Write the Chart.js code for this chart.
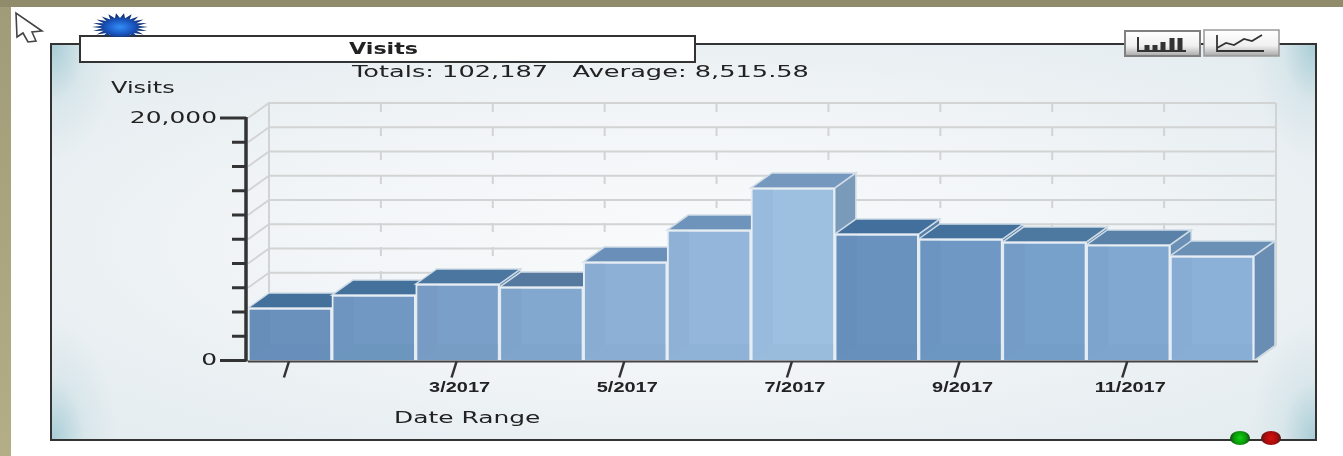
<!DOCTYPE html>
<html>
<head>
<meta charset="utf-8">
<title>Visits</title>
<script src="https://cdn.jsdelivr.net/npm/chart.js@4/dist/chart.umd.min.js"></script>
<style>
html, body { margin: 0; padding: 0; background: #fff; overflow: hidden; }
#page { position: absolute; left: 0; top: 0; width: 1343px; height: 456px; filter: blur(0.5px); }
#page div, #page svg, #page canvas { position: absolute; }
#bandTop { left: 0; top: 0; width: 1343px; height: 7px; background: #8f8b6b; }
#bandLeft { left: 0; top: 7px; width: 11px; height: 449px; background: linear-gradient(#a09c78, #b3ae86); }
#panel { left: 50px; top: 43px; width: 1263px; height: 394px; border: 2px solid #333;
    background:
        radial-gradient(ellipse 65px 115px at left top, #a9cdd6 0, rgba(200,222,228,.45) 50%, rgba(230,238,241,0) 100%),
        radial-gradient(ellipse 65px 115px at right top, #a9cdd6 0, rgba(200,222,228,.45) 50%, rgba(230,238,241,0) 100%),
        radial-gradient(ellipse 65px 115px at left bottom, #a9cdd6 0, rgba(200,222,228,.45) 50%, rgba(230,238,241,0) 100%),
        radial-gradient(ellipse 65px 115px at right bottom, #a9cdd6 0, rgba(200,222,228,.45) 50%, rgba(230,238,241,0) 100%),
        radial-gradient(ellipse farthest-corner at center, #f8fafb 0, #f3f6f8 40%, #e9eff2 75%, #e4ecef 100%); }
#titleBox { left: 79px; top: 35px; width: 613px; height: 24px; background: #fff; border: 2px solid #333; }
.txt { white-space: pre; color: #222; transform-origin: left top; font-family: "DejaVu Sans", sans-serif; font-size: 15px; line-height: 18px; }
.led { width: 20px; height: 14px; border-radius: 50%; }
</style>
</head>
<body>
<div id="page">
    <div id="bandTop"></div>
    <div id="bandLeft"></div>
    <div id="panel"></div>
    <div id="titleBox"></div>
    <canvas id="barChart" width="1343" height="456"></canvas>
    <div class="txt" id="titleText" style="left:349px;top:40px;font-weight:bold;transform:scaleX(1.48)"></div>
    <div class="txt" id="totalsText" style="left:352px;top:63px;transform:scaleX(1.71)"></div>
    <div class="txt" id="yTitle" style="left:111px;top:79px;transform:scaleX(1.6)"></div>
    <div class="txt" id="xTitle" style="left:394px;top:409px;transform:scaleX(1.66)"></div>
    <svg style="left:0;top:0" width="60" height="50">
        <path d="M16 13 L17 37 L23 33 L28 42 L36 41 L32 32 L42 31 Z" fill="#fff" stroke="#444" stroke-width="1.6"/>
    </svg>
    <svg style="left:1120px;top:26px" width="165" height="36">
        <defs><linearGradient id="btn" x1="0" y1="0" x2="0" y2="1">
            <stop offset="0" stop-color="#fff"/><stop offset="0.6" stop-color="#f0f0f0"/><stop offset="1" stop-color="#a8a8a8"/>
        </linearGradient></defs>
        <rect x="5" y="5" width="75" height="25" fill="url(#btn)" stroke="#808080" stroke-width="2"/>
        <rect x="84" y="4" width="75" height="26" fill="url(#btn)" stroke="#999" stroke-width="1.5"/>
        <path d="M18 11 V25 H66" fill="none" stroke="#333" stroke-width="2"/>
        <path d="M27 25 V19 M35 25 V19 M43 25 V16 M52 25 V12 M60 25 V12" stroke="#333" stroke-width="5" fill="none"/>
        <path d="M97 9 V25 H144 M97 22 L106 17 L114 19 L124 13 L132 15 L142 9" fill="none" stroke="#333" stroke-width="1.8"/>
    </svg>
    <div class="led" style="left:1230px;top:431px;background:radial-gradient(circle,#10d010 0,#0a9a0a 50%,#143c14 85%,rgba(40,60,40,.4) 100%)"></div>
    <div class="led" style="left:1261px;top:431px;background:radial-gradient(circle,#d81010 0,#a80c0c 50%,#4a1a1a 85%,rgba(70,40,40,.4) 100%)"></div>
</div>
<script>
const categories = ["1/2017", "2/2017", "3/2017", "4/2017", "5/2017", "6/2017", "7/2017", "8/2017", "9/2017", "10/2017", "11/2017", "12/2017"];
const visits = [4330, 5400, 6310, 6060, 8120, 10760, 14230, 10430, 10020, 9770, 9530, 8620];
const xTickLabels = ["3/2017", "5/2017", "7/2017", "9/2017", "11/2017"];
const yTickLabels = ["0", "20,000"];
const chartTitle = "Visits";
const totalsLine = "Totals: 102,187   Average: 8,515.58";
const yAxisTitle = "Visits";
const xAxisTitle = "Date Range";

const frontColors = ["#6a91bc", "#7098c2", "#7a9fc8", "#83a8d0", "#8db0d6", "#93b6da", "#9dbfe0", "#6a92be", "#6f99c4", "#77a0ca", "#80a8d0", "#8cb1d8"];
const topColors = ["#44709c", "#44709c", "#4a76a0", "#55799f", "#6a8fb8", "#6f94bb", "#7598be", "#426f9b", "#44719c", "#4d789f", "#5a82a8", "#6a90b6"];
const sideColors = ["#5580aa", "#5580aa", "#5a86b0", "#6088ae", "#7096bc", "#7596ba", "#7a9aba", "#5580aa", "#5580aa", "#5c86ae", "#6a90b6", "#6a8eb3"];
const depthX = 21, depthY = -15;

document.getElementById("titleText").textContent = chartTitle;
document.getElementById("totalsText").textContent = totalsLine;
document.getElementById("yTitle").textContent = yAxisTitle;
document.getElementById("xTitle").textContent = xAxisTitle;

// the old flash chart has its text pulled wide, ticks included
class WideLinearScale extends Chart.LinearScale {
    static id = "wideLinear";
    static defaults = Chart.LinearScale.defaults;
    drawLabels(area) {
        const ctx = this.ctx, anchor = this.right - this.options.ticks.padding;
        ctx.save();
        ctx.translate(anchor, 1);
        ctx.scale(1.66, 1);
        ctx.translate(-anchor, 0);
        super.drawLabels(area);
        ctx.restore();
    }
}
class WideCategoryScale extends Chart.CategoryScale {
    static id = "wideCategory";
    static defaults = Chart.CategoryScale.defaults;
    drawLabels(area) {
        // stretch each label around its own centre
        const ctx = this.ctx, font = "bold 15px 'Liberation Sans', sans-serif";
        ctx.save();
        ctx.font = font;
        ctx.fillStyle = "#222";
        ctx.textAlign = "center";
        ctx.textBaseline = "middle";
        this.ticks.forEach((tick, i) => {
            if (!tick.label) return;
            ctx.save();
            ctx.translate(this.getPixelForTick(i) + 2, this.top + 27);
            ctx.scale(1.33, 1);
            ctx.fillText(tick.label, 0, 0);
            ctx.restore();
        });
        ctx.restore();
    }
}
Chart.register(WideLinearScale, WideCategoryScale);

function polygon(ctx, pts, fill, stroke) {
    ctx.beginPath();
    pts.forEach((p, i) => i ? ctx.lineTo(p[0], p[1]) : ctx.moveTo(p[0], p[1]));
    ctx.closePath();
    if (fill) { ctx.fillStyle = fill; ctx.fill(); }
    if (stroke) { ctx.strokeStyle = stroke; ctx.lineWidth = 1.5; ctx.stroke(); }
}

function drawBurst(ctx) {
    const cx = 120, cy = 27, spikes = 22;
    ctx.save();
    ctx.beginPath();
    ctx.rect(85, 10, 70, 27);
    ctx.clip();
    const g = ctx.createRadialGradient(cx, cy, 2, cx, cy, 24);
    g.addColorStop(0, "#2f86f0");
    g.addColorStop(0.55, "#1a55c0");
    g.addColorStop(1, "#10306e");
    ctx.translate(cx, cy);
    ctx.scale(1, 0.5);
    ctx.translate(-cx, -cy);
    ctx.beginPath();
    for (let i = 0; i < spikes * 2; i++) {
        const a = i * Math.PI / spikes, r = i % 2 ? 18 : 28;
        ctx.lineTo(cx + r * Math.cos(a), cy + r * Math.sin(a));
    }
    ctx.closePath();
    ctx.fillStyle = g;
    ctx.fill();
    ctx.restore();
}

const box3d = {
    id: "box3d",
    beforeDatasetsDraw(chart) {
        const ctx = chart.ctx, a = chart.chartArea, y = chart.scales.y;
        const backL = a.left + depthX, backR = a.right + depthX + 1;
        ctx.save();
        drawBurst(ctx);

        // back wall and left wall
        ctx.strokeStyle = "#d2d4d4";
        ctx.lineWidth = 2;
        y.ticks.forEach(t => {
            const py = y.getPixelForValue(t.value);
            ctx.beginPath();
            ctx.moveTo(a.left, py);
            ctx.lineTo(backL, py + depthY);
            ctx.lineTo(backR, py + depthY);
            ctx.stroke();
        });
        ctx.beginPath();
        ctx.moveTo(backL, a.top + depthY);
        ctx.lineTo(backL, a.bottom + depthY);
        ctx.moveTo(backR, a.top + depthY);
        ctx.lineTo(backR, a.bottom + depthY);
        ctx.moveTo(a.right, a.bottom);
        ctx.lineTo(backR, a.bottom + depthY);
        ctx.stroke();
        ctx.setLineDash([9, 15]);
        for (let i = 1; i < 9; i++) {
            const px = backL + i * (backR - backL) / 9;
            ctx.beginPath();
            ctx.moveTo(px, a.top + depthY);
            ctx.lineTo(px, a.bottom + depthY);
            ctx.stroke();
        }
        ctx.setLineDash([]);

        // tops and sides left to right, so each one laps the one before
        chart.getDatasetMeta(0).data.forEach((bar, i) => {
            const l = bar.x - bar.width / 2, r = bar.x + bar.width / 2, t = bar.y, b = a.bottom;
            polygon(ctx, [[r, t], [r + depthX, t + depthY], [r + depthX, b + depthY], [r, b]], sideColors[i], "#cfdbe6");
            polygon(ctx, [[l, t], [l + depthX, t + depthY], [r + depthX, t + depthY], [r, t]], topColors[i], "#cfdbe6");
        });
        ctx.restore();
    },
    afterDatasetsDraw(chart) {
        const ctx = chart.ctx, a = chart.chartArea, y = chart.scales.y, x = chart.scales.x;
        ctx.save();

        // faint see-through of the inside of each box
        chart.getDatasetMeta(0).data.forEach(bar => {
            const l = bar.x - bar.width / 2 + 1, r = bar.x + bar.width / 2 - 1, t = bar.y + 1, b = a.bottom - 1;
            polygon(ctx, [[l, t], [l + depthX, t], [l + depthX, b + depthY], [l, b]], "rgba(40,80,130,.04)");
            polygon(ctx, [[l, b], [l + depthX, b + depthY], [r, b + depthY], [r, b]], "rgba(40,80,130,.03)");
        });

        ctx.strokeStyle = "#333";
        ctx.lineWidth = 3.5;
        ctx.beginPath();
        ctx.moveTo(a.left - 2, a.top - 1);
        ctx.lineTo(a.left - 2, a.bottom + 1);
        ctx.stroke();
        y.ticks.forEach(t => {
            const py = y.getPixelForValue(t.value), major = t.value === y.max || t.value === y.min;
            ctx.lineWidth = 3;
            ctx.beginPath();
            ctx.moveTo(a.left - (major ? 28 : 16), py);
            ctx.lineTo(a.left - 2, py);
            ctx.stroke();
        });
        ctx.strokeStyle = "#444";
        ctx.lineWidth = 2;
        ctx.beginPath();
        ctx.moveTo(a.left, a.bottom + 1);
        ctx.lineTo(a.right + 4, a.bottom + 1);
        ctx.stroke();
        x.ticks.forEach((t, i) => {
            if (i % 2) return;
            const px = x.getPixelForTick(i);
            ctx.lineWidth = 2.5;
            ctx.strokeStyle = "#333";
            ctx.beginPath();
            ctx.moveTo(px - 1, a.bottom + 1);
            ctx.lineTo(px - 6, a.bottom + 17);
            ctx.stroke();
        });
        ctx.restore();
    }
};

new Chart(document.getElementById("barChart").getContext("2d"), {
    type: "bar",
    data: {
        labels: categories,
        datasets: [{
            label: "Visits",
            data: visits,
            backgroundColor: frontColors,
            borderColor: "#e6edf3",
            borderWidth: 2,
            barPercentage: 1,
            categoryPercentage: 1,
        }],
    },
    plugins: [box3d],
    options: {
        responsive: false,
        animation: false,
        layout: { padding: { left: 60, right: 89, top: 118, bottom: 55.5 } },
        plugins: { legend: { display: false }, tooltip: { enabled: false } },
        scales: {
            x: {
                type: "wideCategory",
                afterFit: s => { s.height = 40; },
                grid: { display: false },
                border: { display: false },
                ticks: {
                    autoSkip: false,
                    maxRotation: 0,
                    callback: function (v) {
                        const label = this.getLabelForValue(v);
                        return xTickLabels.includes(label) ? label : "";
                    },
                },
            },
            y: {
                type: "wideLinear",
                min: 0,
                max: 20000,
                afterFit: s => { s.width = 188; },
                grid: { display: false, drawTicks: false },
                border: { display: false },
                ticks: {
                    stepSize: 2000,
                    padding: 31,
                    color: "#222",
                    font: { family: "'DejaVu Sans', sans-serif", size: 15 },
                    callback: v => {
                        const s = v.toLocaleString("en-US");
                        return yTickLabels.includes(s) ? s : "";
                    },
                },
            },
        },
    },
});
</script>
</body>
</html>
